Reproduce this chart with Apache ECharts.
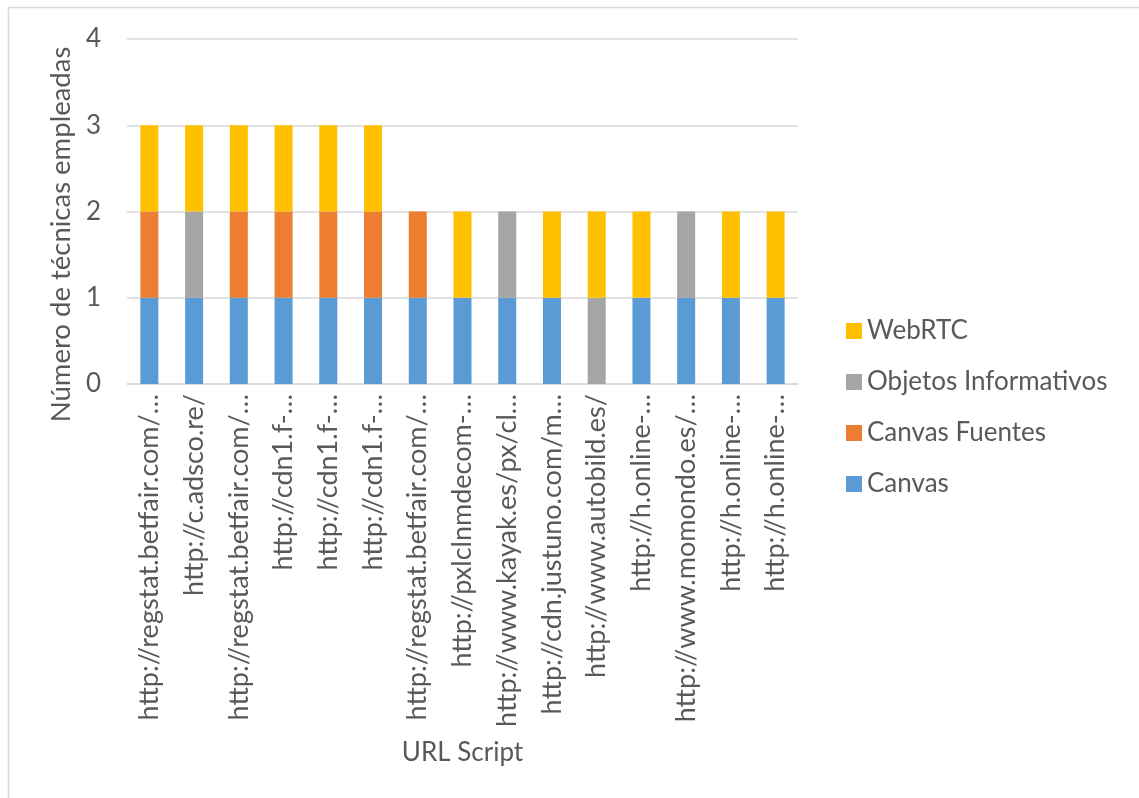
<!DOCTYPE html>
<html>
<head>
<meta charset="utf-8">
<script src="https://cdn.jsdelivr.net/npm/echarts@6/dist/echarts.min.js"></script>
<style>
  html, body { margin: 0; padding: 0; background: #fff; }
  #chart { width: 1139px; height: 798px; }
</style>
</head>
<body>
<div id="chart"></div>
<script>
// Script URLs (as shown, truncated)
const categories = [
  'http://regstat.betfair.com/…',
  'http://c.adsco.re/',
  'http://regstat.betfair.com/…',
  'http://cdn1.f-…',
  'http://cdn1.f-…',
  'http://cdn1.f-…',
  'http://regstat.betfair.com/…',
  'http://pxlclnmdecom-…',
  'http://www.kayak.es/px/cl…',
  'http://cdn.justuno.com/m…',
  'http://www.autobild.es/',
  'http://h.online-…',
  'http://www.momondo.es/…',
  'http://h.online-…',
  'http://h.online-…'
];

// Techniques detected per script (stacked)
const canvas          = [1, 1, 1, 1, 1, 1, 1, 1, 1, 1, 0, 1, 1, 1, 1];
const canvasFuentes   = [1, 0, 1, 1, 1, 1, 1, 0, 0, 0, 0, 0, 0, 0, 0];
const objetosInform   = [0, 1, 0, 0, 0, 0, 0, 0, 1, 0, 1, 0, 1, 0, 0];
const webRTC          = [1, 1, 1, 1, 1, 1, 0, 1, 0, 1, 1, 1, 0, 1, 1];

const yTicks = { min: 0, max: 4, interval: 1 };

const FONT = 'Lato, "Open Sans", sans-serif';
const TXT = '#595959';

const chart = echarts.init(document.getElementById('chart'), null, { renderer: 'canvas' });

function barSeries(name, data, color) {
  return {
    name: name,
    type: 'bar',
    stack: 'total',
    data: data,
    barWidth: 18,
    itemStyle: { color: color },
    emphasis: { disabled: true }
  };
}

chart.setOption({
  animation: false,
  backgroundColor: '#ffffff',
  textStyle: { fontFamily: FONT },
  graphic: [{
    type: 'rect',
    shape: { x: 8.5, y: 7.5, width: 1160, height: 820 },
    style: { fill: 'none', stroke: '#d9d9d9', lineWidth: 1.5 },
    silent: true
  }],
  grid: { left: 127, right: 341, top: 39, bottom: 414, containLabel: false },
  legend: {
    orient: 'vertical',
    left: 841,
    top: 312,
    itemWidth: 16,
    itemHeight: 16,
    itemGap: 23,
    icon: 'rect',
    data: ['WebRTC', 'Objetos Informativos', 'Canvas Fuentes', 'Canvas'],
    textStyle: { fontFamily: FONT, fontSize: 26, lineHeight: 28, color: TXT, padding: [0, 0, 0, 0] }
  },
  xAxis: {
    type: 'category',
    data: categories,
    name: 'URL Script',
    nameLocation: 'middle',
    nameGap: 356,
    nameTextStyle: { fontFamily: FONT, fontSize: 26, color: TXT },
    axisLine: { lineStyle: { color: '#d9d9d9', width: 1.5 } },
    axisTick: { show: false },
    axisLabel: {
      rotate: 90,
      interval: 0,
      margin: 10,
      fontFamily: FONT,
      fontSize: 27,
      color: TXT
    }
  },
  yAxis: {
    type: 'value',
    min: yTicks.min,
    max: yTicks.max,
    interval: yTicks.interval,
    name: 'Número de técnicas empleadas',
    nameLocation: 'middle',
    nameGap: 50,
    nameRotate: 90,
    nameTextStyle: { fontFamily: FONT, fontSize: 27.5, color: TXT, padding: [0, 46, 0, 0] },
    axisLine: { show: false },
    axisTick: { show: false },
    axisLabel: { fontFamily: FONT, fontSize: 26, color: TXT, margin: 26 },
    splitLine: { lineStyle: { color: '#d9d9d9', width: 1.5 } }
  },
  series: [
    barSeries('Canvas', canvas, '#5b9bd5'),
    barSeries('Canvas Fuentes', canvasFuentes, '#ed7d31'),
    barSeries('Objetos Informativos', objetosInform, '#a5a5a5'),
    barSeries('WebRTC', webRTC, '#ffc000')
  ]
});
</script>
</body>
</html>
